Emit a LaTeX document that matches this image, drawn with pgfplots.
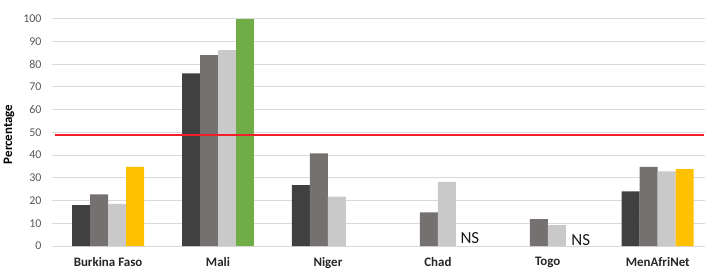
\documentclass[border=0pt]{standalone}
\usepackage{pgfplots}
\pgfplotsset{compat=1.18}
\usepackage{fontspec}
\setmainfont{Carlito}
\definecolor{cdark}{HTML}{404040}
\definecolor{cgray}{HTML}{767171}
\definecolor{clight}{HTML}{C9C9C9}
\definecolor{cyel}{HTML}{FFC000}
\definecolor{cgreen}{HTML}{70AD47}
\definecolor{cred}{HTML}{F0202A}
\definecolor{cgrid}{HTML}{D9D9D9}
\definecolor{ctick}{HTML}{595959}
\begin{document}
\begin{tikzpicture}
\useasboundingbox (0,0) rectangle (711bp,274bp);
\begin{axis}[
  at={(52bp,28bp)}, anchor=south west,
  scale only axis, width=653bp, height=227.3bp,
  xmin=-0.51, xmax=5.43, ymin=0, ymax=100,
  ytick={0,10,...,100},
  xtick={0,1,2,3,4,5},
  xticklabels={Burkina Faso,Mali,Niger,Chad,Togo,MenAfriNet},
  x tick label style={font=\fontsize{13}{15}\selectfont\bfseries, text=black!85, yshift=-7.5bp},
  y tick label style={font=\fontsize{12}{14}\selectfont, text=ctick, xshift=-7bp},
  /pgf/number format/assume math mode=true,
  ymajorgrids, grid style={cgrid, line width=1bp},
  axis line style={draw=none},
  major tick length=0pt,
  ybar, bar width=18bp,
  clip=false,
]
\addplot[fill=cdark, draw=none, bar shift=-27bp] coordinates {(0,18) (1,76) (2,26.8) (5,24)};
\addplot[fill=cgray, draw=none, bar shift=-9bp] coordinates {(0,22.7) (1,84) (2,40.8) (3,14.8) (4,11.8) (5,34.8)};
\addplot[fill=clight, draw=none, bar shift=9bp] coordinates {(0,18.5) (1,86.2) (2,21.7) (3,28.2) (4,9.2) (5,32.8)};
\addplot[fill=cyel, draw=none, bar shift=27bp] coordinates {(0,34.8) (5,33.8)};
\addplot[fill=cgreen, draw=none, bar shift=27bp] coordinates {(1,100)};
\addplot[sharp plot, cred, line width=1.8bp, forget plot] coordinates {(-0.48,49) (5.42,49)};
\node[xshift=-43bp, yshift=-2bp, rotate=90, font=\fontsize{13}{15}\selectfont\bfseries, text=black, anchor=center] at (rel axis cs:0,0.5) {Percentage};
\node[font=\fontsize{17}{19}\selectfont, text=black!90, anchor=base] at (axis cs:3,0) [xshift=32bp, yshift=2.5bp] {NS};
\node[font=\fontsize{17}{19}\selectfont, text=black!90, anchor=base] at (axis cs:4,0) [xshift=33bp, yshift=0.3bp] {NS};
\end{axis}
\end{tikzpicture}
\end{document}
